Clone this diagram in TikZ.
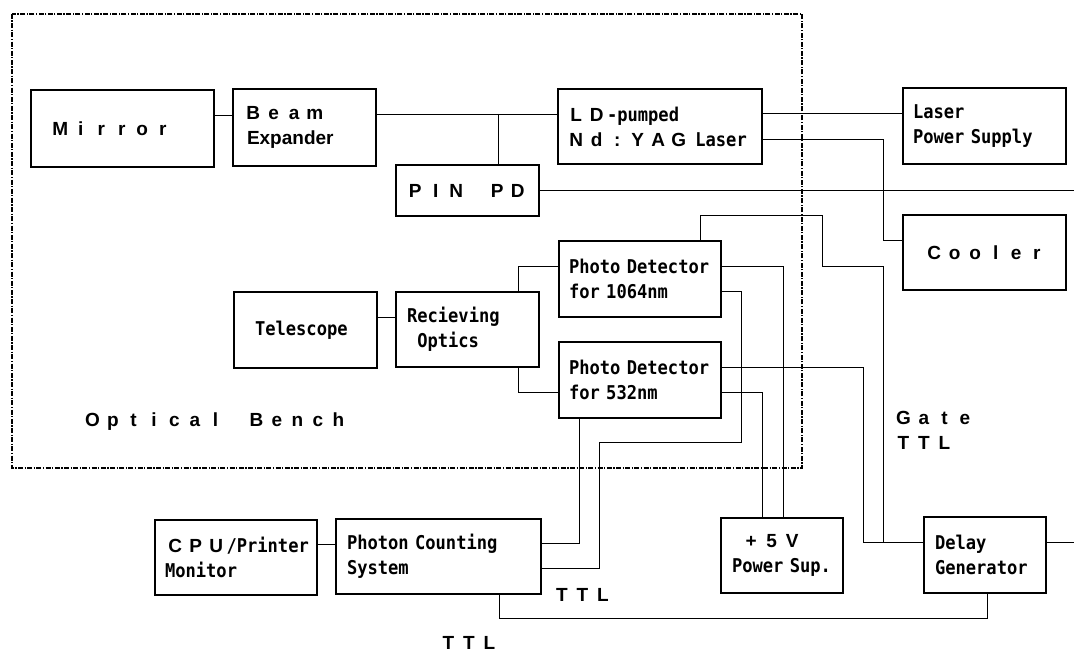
\documentclass[tikz,border=0pt]{standalone}
\usepackage{fontspec}
\newfontfamily\wfam{Liberation Sans}
\newfontfamily\cfam[FakeStretch=0.9]{DejaVu Sans Mono}
\makeatletter
\newdimen\fwpitch
\def\fw@stop{fw@stop}
\newcommand\FW[2][20.5pt]{{\wfam\bfseries\fontsize{19}{25}\selectfont\fwpitch=#1\relax\fw@loop#2\fw@stop}}
\def\fw@loop#1{\ifx#1\fw@stop\else\makebox[\fwpitch][c]{#1}\expandafter\fw@loop\fi}
\makeatother
\newcommand\PropText[1]{{\wfam\bfseries\fontsize{19}{25}\selectfont #1}}
\begin{document}
\begin{tikzpicture}[x=1pt,y=-1pt,
  every node/.style={font=\cfam\bfseries\fontsize{19}{25}\selectfont},
  box/.style n args={3}{draw, line width=1.2pt, text width=#1pt, minimum height=#2pt,
     inner xsep=#3pt, inner ysep=0pt, align=left},
  wire/.style={line width=0.9pt},
  benchline/.style={line width=1.2pt, dash pattern=on 5pt off 1.5pt on 1.2pt off 1.5pt},
  lbl/.style={inner sep=0pt, anchor=base west}]
\useasboundingbox (0,0) rectangle (1074,652);

% optical bench frame
\draw[benchline] (12,14) rectangle (802,468);

% boxes
\node[box={145}{77}{19}] (mirror) at (122.5,128.5) {\mbox{\FW{Mirror}}};
\node[box={123}{77}{10}] (beam) at (304.5,127.5) {\mbox{\FW{Beam}}\\\mbox{\hspace*{4pt}\PropText{Expander}}};
\node[box={125}{51}{9}] (pin) at (467.5,190.5) {\mbox{\FW{PIN~PD}}};
\node[box={188}{75}{8}] (laser) at (660,126.5) {\mbox{\FW{LD}-pumped}\\\mbox{\FW{Nd:YAG}~Laser}};
\node[box={143}{76}{10}] (lps) at (984.5,126) {\mbox{Laser}\\\mbox{Power Supply}};
\node[box={121}{75}{21}] (cooler) at (984.5,252.5) {\mbox{\FW{Cooler}}};
\node[box={101}{76}{21}] (tele) at (305.5,330) {\mbox{Telescope}};
\node[box={121}{75}{11}] (ro) at (467.5,329.5) {\mbox{Recieving}\\\mbox{\hspace*{10.25pt}Optics}};
\node[box={142}{76}{10}] (pd1) at (640,279) {\mbox{Photo Detector}\\\mbox{for 1064nm}};
\node[box={142}{76}{10}] (pd2) at (640,380) {\mbox{Photo Detector}\\\mbox{for 532nm}};
\node[box={142}{75}{10}] (cpu) at (236,557.5) {\mbox{\FW{CPU}/Printer}\\\mbox{Monitor}};
\node[box={183}{75}{11}] (pcs) at (438.5,556.5) {\mbox{Photon Counting}\\\mbox{System}};
\node[box={100}{75}{11}] (psu) at (782,555.5) {\mbox{\hspace*{9pt}\FW{+5V}}\\\mbox{Power Sup.}};
\node[box={100}{76}{11}] (delay) at (985,555) {\mbox{Delay}\\\mbox{Generator}};

% labels
\node[lbl] (bench) at (82,426.7) {\FW{Optical~Bench}};
\node[lbl] (gate) at (893,424.3) {\FW{Gate}};
\node[lbl] (gatettl) at (893,449.3) {\FW{TTL}};
\node[lbl] (ttla) at (551.5,601) {\FW{TTL}};
\node[lbl] (ttlb) at (438,649.5) {\FW{TTL}};

% free ends and junctions
\coordinate (pinend) at (1074,190.5);
\coordinate (delayend) at (1074,542);
\coordinate (j1) at (498,114);

% connectors
\draw[wire] (mirror.east |- 0,115) -- (beam.west |- 0,115);
\draw[wire] (beam.east |- 0,114) -- (laser.west |- 0,114);
\draw[wire] (j1) -- (pin.north -| j1);
\draw[wire] (pin.east) -- (pinend);
\draw[wire] (laser.east |- 0,113) -- (lps.west |- 0,113);
\draw[wire] (laser.east |- 0,139) -- (883,139) -- (883,240) -- (cooler.west |- 0,240);
\draw[wire] (tele.east |- 0,317) -- (ro.west |- 0,317);
\draw[wire] (ro.north -| 518,0) -- (518,266) -- (pd1.west |- 0,266);
\draw[wire] (ro.south -| 518,0) -- (518,392) -- (pd2.west |- 0,392);
\draw[wire] (pd1.north -| 700,0) -- (700,215) -- (822,215) -- (822,266) -- (883,266) -- (883,542) -- (delay.west |- 0,542);
\draw[wire] (pd1.east |- 0,266) -- (783,266) -- (psu.north -| 783,0);
\draw[wire] (pd1.east |- 0,291) -- (741,291) -- (741,442) -- (599,442) -- (599,568) -- (pcs.east |- 0,568);
\draw[wire] (pd2.east |- 0,367) -- (863,367) -- (863,542) -- (delay.west |- 0,542);
\draw[wire] (pd2.east |- 0,392) -- (762,392) -- (psu.north -| 762,0);
\draw[wire] (pd2.south -| 579,0) -- (579,543) -- (pcs.east |- 0,543);
\draw[wire] (cpu.east |- 0,544) -- (pcs.west |- 0,544);
\draw[wire] (delay.east |- 0,542) -- (delayend);
\draw[wire] (delay.south -| 987,0) -- (987,618) -- (499,618) -- (pcs.south -| 499,0);
\end{tikzpicture}
\end{document}
